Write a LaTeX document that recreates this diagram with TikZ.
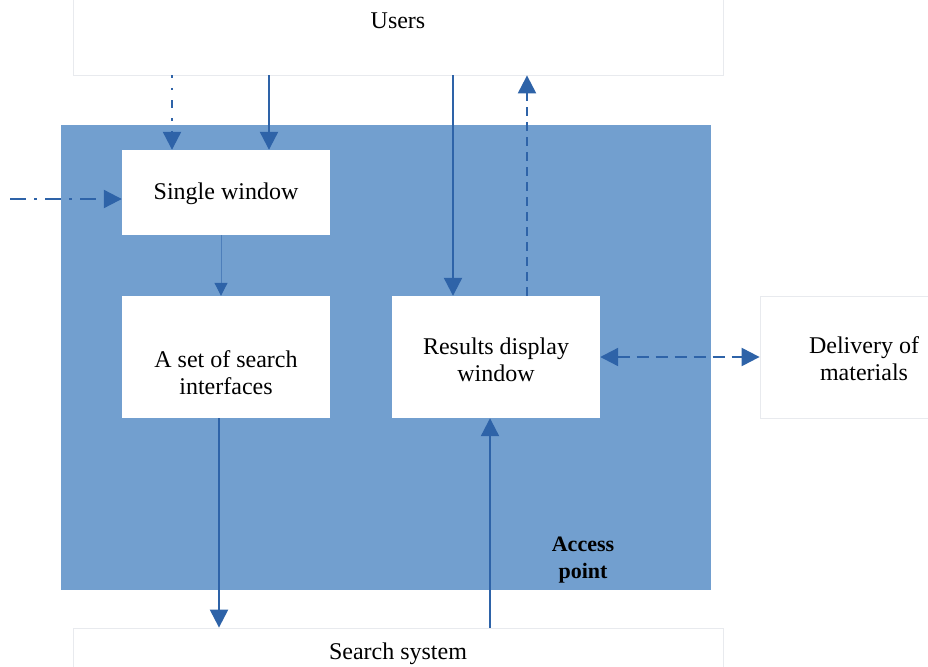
\documentclass[tikz,border=0pt]{standalone}
\usepackage{fontspec}
\setmainfont{Liberation Serif}
\usetikzlibrary{arrows.meta}
\definecolor{apfill}{RGB}{114,159,207}
\definecolor{arr}{RGB}{46,99,168}
\definecolor{edgegray}{RGB}{232,234,238}
\begin{document}
\begin{tikzpicture}[x=1pt,y=-1pt,
  outerbox/.style={draw=edgegray,line width=0.8pt,fill=white,inner sep=0pt},
  innerbox/.style={fill=white,inner sep=0pt},
  lbl/.style={font=\fontsize{24}{27}\selectfont,align=center,inner sep=0pt},
  conn/.style={draw=arr,line width=2.2pt,-{Triangle[length=18pt,width=18pt]}},
  thinconn/.style={draw=arr!55!apfill,line width=1pt,-{Triangle[length=13pt,width=13pt,color=arr]}}
]
\useasboundingbox (0,0) rectangle (928,666);
\begin{scope}
\clip (0,0) rectangle (928,666);
% outer boxes
\node[outerbox,minimum width=650pt,minimum height=110pt] (users) at (398,20) {};
\node[lbl] (userst) at (398,21) {Users};
\node[outerbox,minimum width=650pt,minimum height=72pt] (search) at (398,664) {};
\node[lbl] (searcht) at (398,654) {Search system};
\node[outerbox,minimum width=208pt,minimum height=122pt] (deliv) at (864,357) {};
\node[lbl] (delivt) at (864,359) {Delivery of\\materials};
% access point
\node[fill=apfill,minimum width=650pt,minimum height=465pt,inner sep=0pt] (ap) at (386,357.5) {};
\node[lbl,font=\fontsize{22}{27}\selectfont\bfseries] (apt) at (583,560) {Access\\ point};
% inner boxes
\node[innerbox,minimum width=208pt,minimum height=85pt] (single) at (226,192.5) {};
\node[lbl] (singlet) at (226,194) {Single window};
\node[innerbox,minimum width=208pt,minimum height=122pt] (sets) at (226,357) {};
\node[lbl] (setst) at (226,373) {A set of search\\interfaces};
\node[innerbox,minimum width=208pt,minimum height=122pt] (res) at (496,357) {};
\node[lbl] (rest) at (496,360) {Results display\\window};
% connectors
\coordinate (leftin) at (10,199);
\draw[conn,dash pattern=on 2.5pt off 10pt on 2.5pt off 10pt on 8pt off 10pt] (users.south -| 172,0) -- (single.north -| 172,0);
\draw[conn] (users.south -| 269,0) -- (single.north -| 269,0);
\draw[conn,dash pattern=on 16pt off 8pt on 3pt off 8pt] (leftin) -- (single.west |- leftin);
\draw[thinconn] (single.south -| 221,0) -- (sets.north -| 221,0);
\draw[conn] (users.south -| 453,0) -- (res.north -| 453,0);
\draw[conn,dash pattern=on 9pt off 6pt] (res.north -| 527,0) -- (users.south -| 527,0);
\draw[conn,{Triangle[length=18pt,width=18pt]}-{Triangle[length=18pt,width=18pt]},dash pattern=on 12pt off 7pt] (res.east |- 0,357) -- (deliv.west |- 0,357);
\draw[conn] (sets.south -| 219,0) -- (search.north -| 219,0);
\draw[conn] (search.north -| 490,0) -- (res.south -| 490,0);
\end{scope}
\end{tikzpicture}
\end{document}
